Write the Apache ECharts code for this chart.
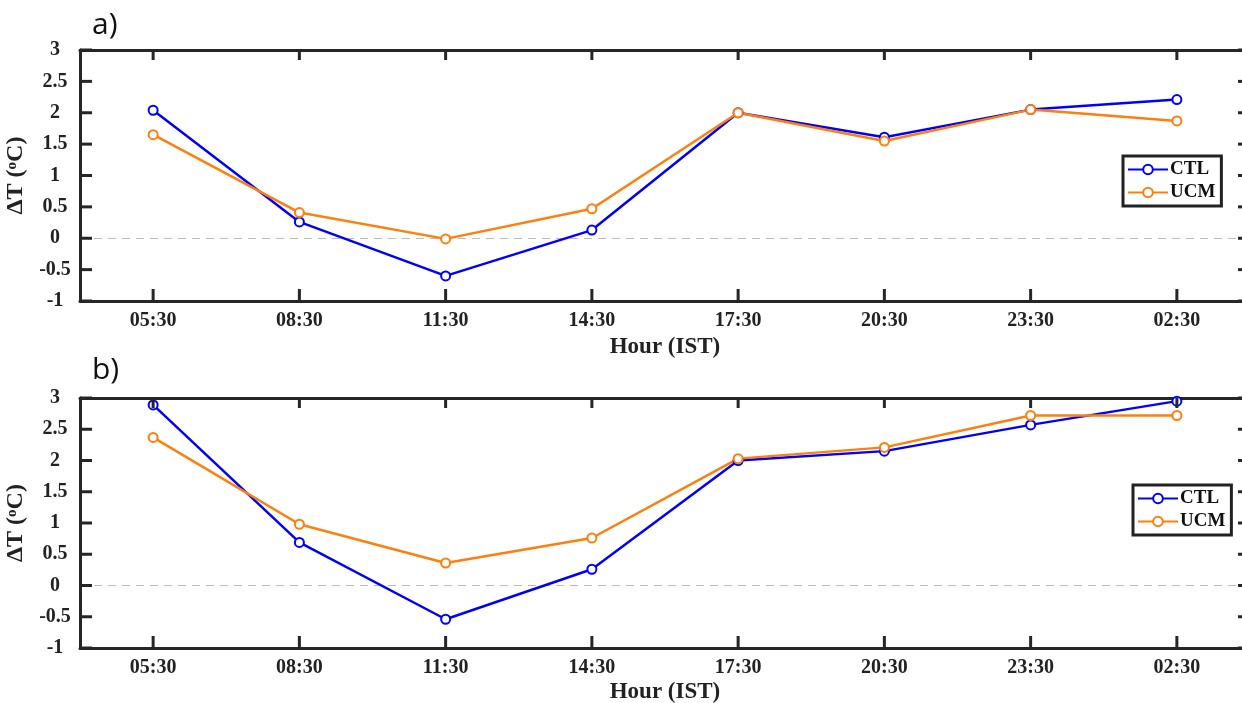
<!DOCTYPE html>
<html>
<head>
<meta charset="utf-8">
<script src="https://cdn.jsdelivr.net/npm/echarts@6/dist/echarts.min.js"></script>
<style>html,body{margin:0;padding:0;background:#fff;}#c{width:1242px;height:703px;}</style>
</head>
<body>
<div id="c"></div>
<script>
var hours = ['05:30','08:30','11:30','14:30','17:30','20:30','23:30','02:30'];
var ctlA = [2.04, 0.26, -0.60, 0.13, 2.00, 1.61, 2.05, 2.21];
var ucmA = [1.65, 0.41, -0.01, 0.47, 2.00, 1.55, 2.05, 1.87];
var ctlB = [2.89, 0.69, -0.54, 0.26, 2.00, 2.15, 2.57, 2.95];
var ucmB = [2.37, 0.98, 0.36, 0.76, 2.03, 2.21, 2.72, 2.72];
var yTicks = [-1, -0.5, 0, 0.5, 1, 1.5, 2, 2.5, 3];

var serif = '"Liberation Serif", "DejaVu Serif", serif';
var axisCol = '#262626';
var blue = '#0000FF', orange = '#FF7F0E';

var grids = [
  {left: 80, top: 50, height: 251, width: 1170, outerBoundsMode: 'none'},
  {left: 80, top: 398, height: 250, width: 1170, outerBoundsMode: 'none'}
];

var xAxes = [], yAxes = [], series = [];
[0,1].forEach(function(g){
  xAxes.push({
    type: 'category', gridIndex: g, data: hours, position: 'bottom', boundaryGap: true,
    axisLine: {show: true, onZero: false, lineStyle: {color: axisCol, width: 3}},
    axisTick: {show: false},
    axisLabel: {margin: 10, fontFamily: serif, fontWeight: 'bold', fontSize: 20, color: '#222'},
    splitLine: {show: false},
    name: 'Hour (IST)', nameLocation: 'middle', nameGap: g === 0 ? 35 : 33,
    nameTextStyle: {fontFamily: serif, fontWeight: 'bold', fontSize: 23, color: '#222'}
  });
  xAxes.push({
    type: 'category', gridIndex: g, data: hours, position: 'top', boundaryGap: true,
    axisLine: {show: true, onZero: false, lineStyle: {color: axisCol, width: 3}},
    axisTick: {show: false}, axisLabel: {show: false}, splitLine: {show: false}
  });
  yAxes.push({
    type: 'value', gridIndex: g, min: -1, max: 3, interval: 0.5, position: 'left',
    axisLine: {show: true, lineStyle: {color: axisCol, width: 3}},
    axisTick: {show: false},
    axisLabel: {margin: 25, align: 'center', fontFamily: serif, fontWeight: 'bold', fontSize: 20, color: '#222'},
    splitLine: {show: false},
    name: '{n|ΔT (}{s|o}{n|C)}', nameLocation: 'middle', nameGap: 47, nameRotate: 90,
    nameTextStyle: {rich: {
      n: {fontFamily: serif, fontWeight: 'bold', fontSize: 24, color: '#222'},
      s: {fontFamily: serif, fontWeight: 'bold', fontSize: 15, color: '#222', verticalAlign: 'top', padding: [0,0,9,0]}
    }}
  });
  yAxes.push({
    type: 'value', gridIndex: g, min: -1, max: 3, interval: 0.5, position: 'right',
    axisLine: {show: true, lineStyle: {color: axisCol, width: 3}},
    axisTick: {show: false}, axisLabel: {show: false}, splitLine: {show: false}
  });
});

function mkSeries(name, data, color, g, withZero){
  var s = {
    name: name, type: 'line', xAxisIndex: g*2, yAxisIndex: g*2, data: data,
    symbol: 'emptyCircle', symbolSize: 9, showAllSymbol: true,
    lineStyle: {color: color, width: 2.5}, itemStyle: {color: color, borderWidth: 2},
    emphasis: {disabled: true}, z: 3
  };
  if (withZero) {
    s.markLine = {
      silent: true, symbol: 'none', label: {show: false},
      lineStyle: {color: '#bbbbbb', type: [8, 6], width: 1.2},
      data: [{yAxis: 0}], z: 1
    };
  }
  return s;
}

function xTickSeries(g){
  return {
    type: 'custom', xAxisIndex: g*2, yAxisIndex: g*2, silent: true, clip: false, z: 10,
    data: hours.map(function(h){ return [h, 0]; }),
    renderItem: function(params, api){
      var cs = params.coordSys;
      var x = api.coord([api.value(0), 0])[0];
      var b = cs.y + cs.height, t = cs.y;
      return {type: 'group', children: [
        {type: 'rect', shape: {x: x - 1.5, y: b - 12, width: 3, height: 12}, style: {fill: axisCol}},
        {type: 'rect', shape: {x: x - 1.5, y: t, width: 3, height: 10}, style: {fill: axisCol}}
      ]};
    }
  };
}
function yTickSeries(g){
  return {
    type: 'custom', xAxisIndex: g*2, yAxisIndex: g*2, silent: true, clip: false, z: 10,
    data: yTicks.map(function(v){ return [0, v]; }),
    renderItem: function(params, api){
      var cs = params.coordSys;
      var y = api.coord([0, api.value(1)])[1];
      var l = cs.x, r = cs.x + cs.width;
      return {type: 'group', children: [
        {type: 'rect', shape: {x: l, y: y - 1.5, width: 12, height: 3}, style: {fill: axisCol}},
        {type: 'rect', shape: {x: r - 12, y: y - 1.5, width: 12, height: 3}, style: {fill: axisCol}}
      ]};
    }
  };
}

series.push(mkSeries('CTL', ctlA, blue, 0, true));
series.push(mkSeries('UCM', ucmA, orange, 0, false));
series.push(mkSeries('CTL', ctlB, blue, 1, true));
series.push(mkSeries('UCM', ucmB, orange, 1, false));
series.push(xTickSeries(0), yTickSeries(0), xTickSeries(1), yTickSeries(1));

function mkLegend(left, top){
  return {
    left: left, top: top, orient: 'vertical', data: ['CTL','UCM'],
    itemWidth: 40, itemHeight: 12, itemGap: 4, padding: [4, 6, 4, 4],
    borderColor: '#222', borderWidth: 3, backgroundColor: '#fff',
    textStyle: {fontFamily: serif, fontWeight: 'bold', fontSize: 19, color: '#111', padding: [0,0,0,-3]},
    selectedMode: false
  };
}

var chart = echarts.init(document.getElementById('c'));
chart.setOption({
  animation: false,
  backgroundColor: '#fff',
  grid: grids,
  xAxis: xAxes,
  yAxis: yAxes,
  legend: [mkLegend(1123, 156), mkLegend(1133, 485)],
  series: series,
  graphic: [
    {type: 'text', left: 92, top: 10, style: {text: 'a)', font: '30px "Open Sans", "Noto Sans", sans-serif', fill: '#111'}},
    {type: 'text', left: 92, top: 355, style: {text: 'b)', font: '30px "Open Sans", "Noto Sans", sans-serif', fill: '#111'}}
  ]
});
</script>
</body>
</html>
